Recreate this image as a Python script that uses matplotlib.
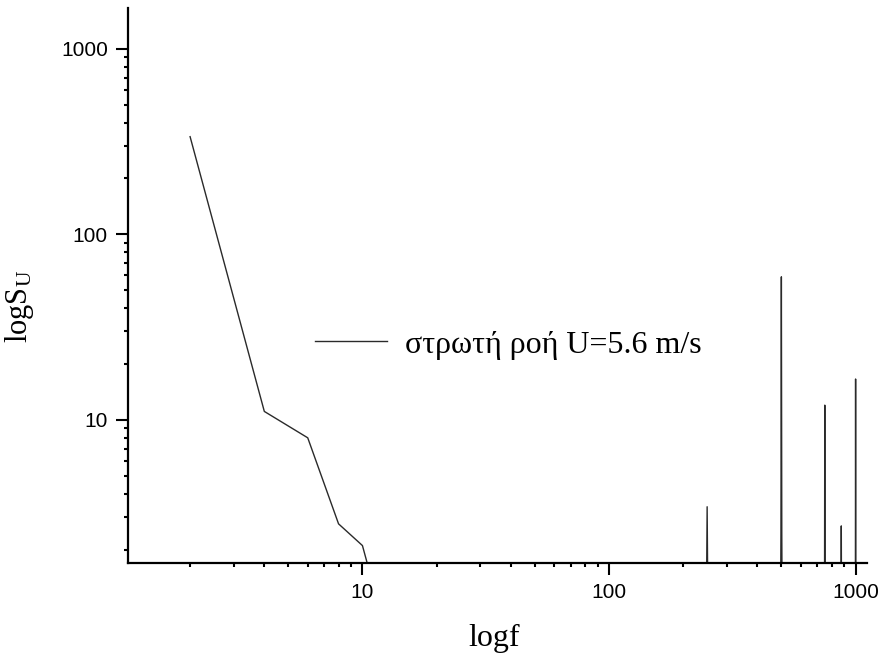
import numpy as np
import matplotlib
matplotlib.use("Agg")
import matplotlib.pyplot as plt
from matplotlib.ticker import LogLocator, NullFormatter, FixedLocator

# spectrum (values below the axis are clipped)
freq = [2, 4, 6, 8, 10, 12, 14,
        248, 250, 252,
        496, 498, 500, 502, 504,
        748, 750, 752,
        873, 875, 877,
        998, 1000, 1002, 1100]
S_u = [336, 11.1, 8.0, 2.75, 2.1, 0.86, 0.8,
       0.8, 3.4, 0.8,
       0.8, 2.4, 59, 2.4, 0.8,
       0.8, 12.0, 0.8,
       0.8, 2.68, 0.8,
       0.8, 16.6, 0.8, 0.8]
series_label = "στρωτή ροή U=5.6 m/s"
xticks = [10, 100, 1000]
yticks = [10, 100, 1000]

plt.rcParams['mathtext.fontset'] = 'custom'
plt.rcParams['mathtext.rm'] = 'Liberation Serif'
plt.rcParams['mathtext.it'] = 'Liberation Serif:italic'

fig = plt.figure(figsize=(8.84, 6.64), dpi=100)
ax = fig.add_axes([0.1448, 0.152, 0.8356, 0.836])

ax.plot(freq, S_u, '-', color='#2a2a2a', lw=1.0, label=series_label)
ax.set_xscale('log')
ax.set_yscale('log')
ax.set_xlim(1.12, 1109)
ax.set_ylim(1.69, 1660)

for sp in ['top', 'right']:
    ax.spines[sp].set_visible(False)
for sp in ['left', 'bottom']:
    ax.spines[sp].set_linewidth(1.6)

ax.xaxis.set_major_locator(FixedLocator(xticks))
ax.yaxis.set_major_locator(FixedLocator(yticks))
ax.set_xticklabels([str(t) for t in xticks])
ax.set_yticklabels([str(t) for t in yticks])
ax.xaxis.set_minor_locator(LogLocator(base=10, subs=np.arange(2, 10)))
ax.yaxis.set_minor_locator(LogLocator(base=10, subs=np.arange(2, 10)))
ax.xaxis.set_minor_formatter(NullFormatter())
ax.yaxis.set_minor_formatter(NullFormatter())
ax.tick_params(which='major', direction='out', length=8.5, width=1.5, pad=6,
               labelsize=15, labelfontfamily='Liberation Sans')
ax.tick_params(which='minor', direction='out', length=3, width=1.5)

ax.set_xlabel('logf', family='Liberation Serif', fontsize=23)
ax.set_ylabel(r'logS$_{\mathrm{U}}$', family='Liberation Serif', fontsize=22)
ax.xaxis.set_label_coords(0.496, -0.11)
ax.yaxis.set_label_coords(-0.125, 0.463)

ax.legend(loc='center left', bbox_to_anchor=(0.253, 0.393), frameon=False,
          borderaxespad=0, borderpad=0, handlelength=2.25, handletextpad=0.58,
          prop={'family': 'Liberation Serif', 'size': 23})

fig.savefig('out.png', dpi=100)
